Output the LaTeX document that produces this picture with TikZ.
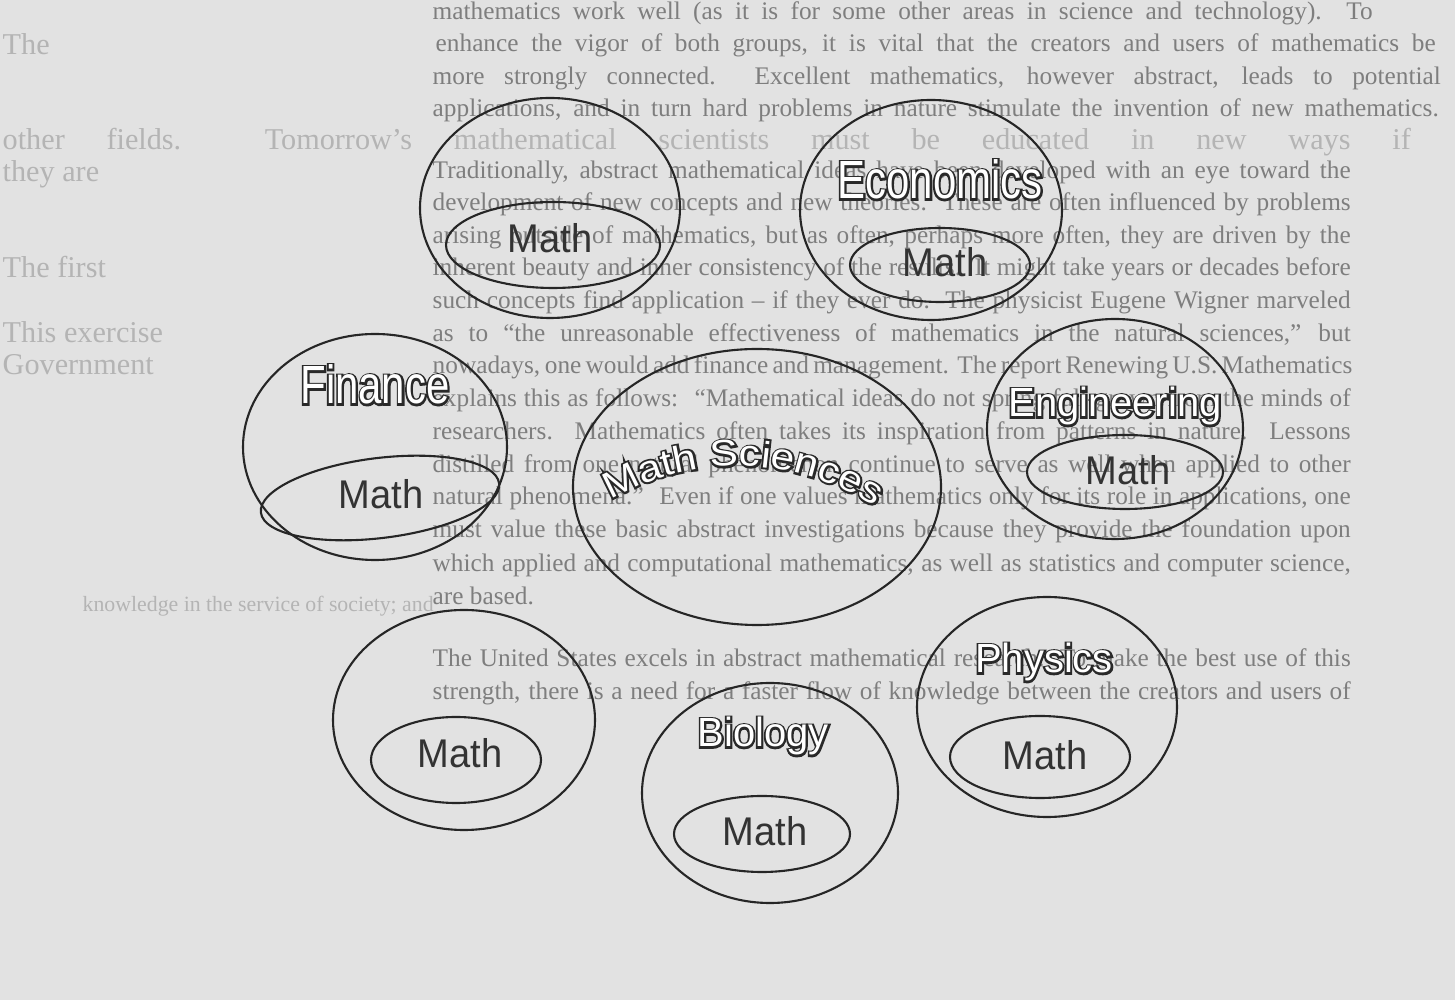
\documentclass[tikz,border=0pt]{standalone}
\usepackage{fontspec}
\usetikzlibrary{shapes.geometric,decorations.text}
\setmainfont{Liberation Serif}
\newfontfamily\fcond[FakeStretch=0.78]{Liberation Sans}
\newfontfamily\fnorm[FakeStretch=0.98]{Liberation Sans}
\newfontfamily\fmath[FakeStretch=0.95]{Liberation Sans}
\newfontfamily\fwide[FakeStretch=1.15]{Liberation Sans}
\definecolor{bgc}{HTML}{E2E2E2}
\definecolor{bgtxt}{HTML}{7E7E7E}
\definecolor{bglight}{HTML}{B4B4B4}
\definecolor{linec}{HTML}{262626}
\definecolor{mathc}{HTML}{333333}
\def\olstroke{\special{pdf:literal direct 1 Tr 1.1 w 0.16 G}}
\def\olnormal{\special{pdf:literal direct 0 Tr}}
\newcommand\hollow[1]{\rlap{\olstroke#1\olnormal}{\color{white}#1}}
\tikzset{
  oval/.style={ellipse, draw=linec, line width=0.6pt, inner sep=0pt, outer sep=0pt},
  mathlbl/.style={font=\fmath\fontsize{11.4pt}{12pt}\selectfont, text=mathc, inner sep=0pt},
  hlbig/.style={font=\fcond\fontsize{15.3pt}{16pt}\selectfont, inner sep=0pt, anchor=base},
  hlmid/.style={font=\fnorm\fontsize{11.6pt}{12pt}\selectfont, inner sep=0pt, anchor=base},
  bgdk/.style={font=\fontsize{7.2pt}{8pt}\selectfont, text=bgtxt, anchor=base west, inner sep=0pt},
  bglt/.style={font=\fontsize{8.6pt}{9pt}\selectfont, text=bglight, anchor=base west, inner sep=0pt},
}
\begin{document}
\begin{tikzpicture}
\useasboundingbox (0,0) rectangle (14.55,-10);
\fill[bgc] (0,0) rectangle (14.55,-10);

% faint show-through text
\node[bglt] (g1) at (0.02,-0.55) {The};
\node[bglt] (g2) at (0.02,-1.50) {\makebox[14.08cm][s]{other fields.\ \ Tomorrow’s mathematical scientists must be educated in new ways if}};
\node[bglt] (g3) at (0.02,-1.82) {they are};
\node[bglt] (g4) at (0.02,-2.78) {The first};
\node[bglt] (g5) at (0.02,-3.43) {This exercise};
\node[bglt] (g6) at (0.02,-3.75) {Government};
\node[bglt, font=\fontsize{6.2pt}{7pt}\selectfont] (g7) at (0.82,-6.12) {knowledge in the service of society; and};

% page text
\node[bgdk] (t1) at (4.32,-0.20) {\makebox[9.40cm][s]{mathematics work well (as it is for some other areas in science and technology).\ \ To}};
\node[bgdk] (t2) at (4.35,-0.52) {\makebox[10.00cm][s]{enhance the vigor of both groups, it is vital that the creators and users of mathematics be}};
\node[bgdk] (t3) at (4.32,-0.85) {\makebox[10.08cm][s]{more strongly connected.\ \ Excellent mathematics, however abstract, leads to potential}};
\node[bgdk] (t4) at (4.32,-1.17) {\makebox[10.06cm][s]{applications, and in turn hard problems in nature stimulate the invention of new mathematics.}};
\node[bgdk] (t5) at (4.32,-1.79) {\makebox[9.18cm][s]{Traditionally, abstract mathematical ideas have been developed with an eye toward the}};
\node[bgdk] (t6) at (4.32,-2.11) {\makebox[9.18cm][s]{development of new concepts and new theories.\ \ These are often influenced by problems}};
\node[bgdk] (t7) at (4.32,-2.44) {\makebox[9.18cm][s]{arising outside of mathematics, but as often, perhaps more often, they are driven by the}};
\node[bgdk] (t8) at (4.32,-2.76) {\makebox[9.18cm][s]{inherent beauty and inner consistency of the results.\ \ It might take years or decades before}};
\node[bgdk] (t9) at (4.32,-3.09) {\makebox[9.18cm][s]{such concepts find application -- if they ever do.\ \ The physicist Eugene Wigner marveled}};
\node[bgdk] (t10) at (4.32,-3.42) {\makebox[9.18cm][s]{as to “the unreasonable effectiveness of mathematics in the natural sciences,” but}};
\node[bgdk] (t11) at (4.32,-3.74) {\makebox[9.18cm][s]{nowadays, one would add finance and management.\ \ The report Renewing U.S. Mathematics}};
\node[bgdk] (t12) at (4.32,-4.07) {\makebox[9.18cm][s]{explains this as follows: \ “Mathematical ideas do not spring full-grown from the minds of}};
\node[bgdk] (t13) at (4.32,-4.40) {\makebox[9.18cm][s]{researchers.\ \ Mathematics often takes its inspiration from patterns in nature.\ \ Lessons}};
\node[bgdk] (t14) at (4.32,-4.73) {\makebox[9.18cm][s]{distilled from one natural phenomenon continue to serve as well when applied to other}};
\node[bgdk] (t15) at (4.32,-5.05) {\makebox[9.18cm][s]{natural phenomena.” \ Even if one values mathematics only for its role in applications, one}};
\node[bgdk] (t16) at (4.32,-5.38) {\makebox[9.18cm][s]{must value these basic abstract investigations because they provide the foundation upon}};
\node[bgdk] (t17) at (4.32,-5.72) {\makebox[9.18cm][s]{which applied and computational mathematics, as well as statistics and computer science,}};
\node[bgdk] (t18) at (4.32,-6.05) {are based.};
\node[bgdk] (t19) at (4.32,-6.67) {\makebox[9.18cm][s]{The United States excels in abstract mathematical research.\ \ To make the best use of this}};
\node[bgdk] (t20) at (4.32,-7.00) {\makebox[9.18cm][s]{strength, there is a need for a faster flow of knowledge between the creators and users of}};

% outer ellipses
\node[oval, minimum width=2.60cm, minimum height=2.20cm] (aout) at (5.50,-2.08) {};
\node[oval, minimum width=2.62cm, minimum height=2.20cm] (econ) at (9.31,-2.10) {};
\node[oval, minimum width=2.64cm, minimum height=2.26cm] (fin) at (3.75,-4.47) {};
\node[oval, minimum width=3.68cm, minimum height=2.76cm] (ms) at (7.57,-4.87) {};
\node[oval, minimum width=2.56cm, minimum height=2.20cm] (eng) at (11.15,-4.29) {};
\node[oval, minimum width=2.62cm, minimum height=2.20cm] (bl) at (4.64,-7.20) {};
\node[oval, minimum width=2.56cm, minimum height=2.20cm] (bio) at (7.70,-7.93) {};
\node[oval, minimum width=2.60cm, minimum height=2.20cm] (phys) at (10.47,-7.07) {};

% inner ellipses
\node[oval, minimum width=2.14cm, minimum height=0.86cm] (ain) at (5.53,-2.45) {};
\node[oval, minimum width=1.80cm, minimum height=0.74cm] (econin) at (9.40,-2.65) {};
\node[oval, minimum width=2.40cm, minimum height=0.80cm, rotate=7] (finin) at (3.80,-4.98) {};
\node[oval, minimum width=1.96cm, minimum height=0.74cm] (engin) at (11.25,-4.72) {};
\node[oval, minimum width=1.70cm, minimum height=0.86cm] (blin) at (4.56,-7.60) {};
\node[oval, minimum width=1.76cm, minimum height=0.76cm] (bioin) at (7.62,-8.34) {};
\node[oval, minimum width=1.80cm, minimum height=0.82cm] (physin) at (10.40,-7.57) {};

% Math labels
\node[mathlbl] (m1) at (5.50,-2.38) {Math};
\node[mathlbl] (m2) at (9.45,-2.62) {Math};
\node[mathlbl] (m3) at (11.28,-4.70) {Math};
\node[mathlbl] (m4) at (3.81,-4.94) {Math};
\node[mathlbl] (m5) at (7.65,-8.31) {Math};
\node[mathlbl] (m6) at (4.60,-7.53) {Math};
\node[mathlbl] (m7) at (10.45,-7.55) {Math};

% hollow field labels
\node[hlbig] (econlbl) at (9.40,-1.99) {\hollow{Economics}};
\node[hlbig] (finlbl) at (3.75,-4.04) {\hollow{Finance}};
\node[hlmid] (englbl) at (11.15,-4.17) {\hollow{Engineering}};
\node[hlmid] (physlbl) at (10.44,-6.73) {\hollow{Physics}};
\node[hlmid] (biolbl) at (7.63,-7.47) {\hollow{Biology}};

% curved Math Sciences label: dark outline pass, then white fill pass
\coordinate (msc) at (7.37,-7.19);
\path[decorate, decoration={text along path, text align=center,
    text={|\fwide\fontsize{10.5pt}{11pt}\selectfont\olstroke|Math Sciences}}]
  ([shift={(125:2.53)}]msc) arc[start angle=125, end angle=52, radius=2.53];
\path[decorate, decoration={text along path, text align=center, text color=white,
    text={|\fwide\fontsize{10.5pt}{11pt}\selectfont\olnormal|Math Sciences}}]
  ([shift={(125:2.53)}]msc) arc[start angle=125, end angle=52, radius=2.53];
\end{tikzpicture}
\end{document}
